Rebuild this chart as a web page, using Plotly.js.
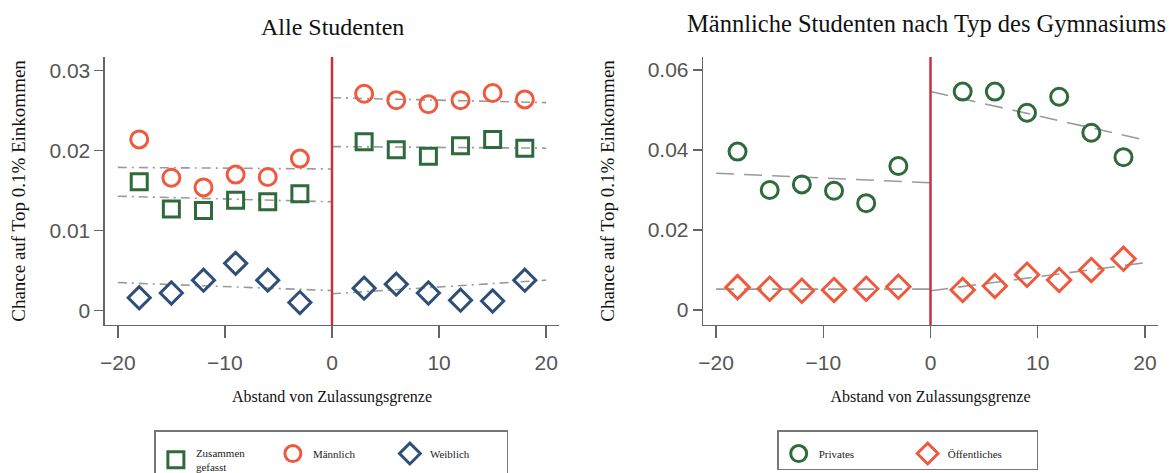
<!DOCTYPE html>
<html>
<head>
<meta charset="utf-8">
<script src="https://cdn.plot.ly/plotly-3.0.1.min.js"></script>
<style>html,body{margin:0;padding:0;background:#fff;}#chart{width:1174px;height:473px;}</style>
</head>
<body>
<div id="chart"></div>
<script>
// ---- data ----
const binX = [-18, -15, -12, -9, -6, -3, 3, 6, 9, 12, 15, 18];
const fitXLeft = [-20, 0];
const fitXRight = [0, 20];

const titles = ["Alle Studenten", "Männliche Studenten nach Typ des Gymnasiums"];
const xTitle = "Abstand von Zulassungsgrenze";
const yTitle = "Chance auf Top 0.1% Einkommen";

const namesLeft = ["Zusammen<br>gefasst", "Männlich", "Weiblich"];
const namesRight = ["Privates", "Öffentliches"];

// Panel 1: Alle Studenten
const zusammen = [0.0161, 0.0127, 0.0125, 0.0138, 0.0136, 0.0146, 0.0211, 0.0201, 0.0193, 0.0206, 0.0214, 0.0203];
const maennlich = [0.0214, 0.0166, 0.0154, 0.0170, 0.0167, 0.0190, 0.0271, 0.0263, 0.0258, 0.0263, 0.0272, 0.0264];
const weiblich = [0.0016, 0.0022, 0.0038, 0.0059, 0.0038, 0.0010, 0.0028, 0.0033, 0.0022, 0.0013, 0.0012, 0.0038];
const fitZusL = [0.0143, 0.0136], fitZusR = [0.0205, 0.0203];
const fitMaeL = [0.0179, 0.0177], fitMaeR = [0.0266, 0.0260];
const fitWeiL = [0.0035, 0.0025], fitWeiR = [0.0021, 0.0038];

// Panel 2: Männliche Studenten nach Gymnasium
const privates = [0.0396, 0.0300, 0.0314, 0.0298, 0.0267, 0.0360, 0.0546, 0.0546, 0.0493, 0.0533, 0.0443, 0.0382];
const oeffentliches = [0.0057, 0.0053, 0.0048, 0.0050, 0.0053, 0.0058, 0.0050, 0.0060, 0.0088, 0.0075, 0.0100, 0.0128];
const fitPrivL = [0.0342, 0.0318], fitPrivR = [0.0546, 0.0425];
const fitOeffL = [0.0052, 0.0052], fitOeffR = [0.0048, 0.0118];

const xTickVals = [-20, -10, 0, 10, 20];
const xTickText = ["\u221220", "\u221210", "0", "10", "20"];
const yTickValsL = [0, 0.01, 0.02, 0.03];
const yTickTextL = ["0", "0.01", "0.02", "0.03"];
const yTickValsR = [0, 0.02, 0.04, 0.06];
const yTickTextR = ["0", "0.02", "0.04", "0.06"];

// ---- styles ----
const GREEN = '#2f6a3c', RED = '#ee5a3e', NAVY = '#2e5078', CUT = '#c8323f', FIT = '#9a9a9a';
const serif = 'Liberation Serif, Times New Roman, serif';
const sans = 'Liberation Sans, Arial, sans-serif';

function pts(y, name, sym, color, size, xa, ya, legend) {
  return {x: binX, y: y, name: name, type: 'scatter', mode: 'markers', xaxis: xa, yaxis: ya, legend: legend,
    marker: {symbol: sym, size: size, color: color, line: {width: 3, color: color}}, cliponaxis: false};
}
function fit(x, y, xa, ya, dash) {
  return {x: x, y: y, type: 'scatter', mode: 'lines', xaxis: xa, yaxis: ya, showlegend: false, hoverinfo: 'skip',
    line: {color: FIT, width: 1.6, dash: dash}};
}
const DD = '9px,5px,2px,5px';
const LD = '18px,10px';

const data = [
  fit(fitXLeft, fitZusL, 'x', 'y', DD), fit(fitXRight, fitZusR, 'x', 'y', DD),
  fit(fitXLeft, fitMaeL, 'x', 'y', DD), fit(fitXRight, fitMaeR, 'x', 'y', DD),
  fit(fitXLeft, fitWeiL, 'x', 'y', DD), fit(fitXRight, fitWeiR, 'x', 'y', DD),
  fit(fitXLeft, fitPrivL, 'x2', 'y2', LD), fit(fitXRight, fitPrivR, 'x2', 'y2', LD),
  fit(fitXLeft, fitOeffL, 'x2', 'y2', LD), fit(fitXRight, fitOeffR, 'x2', 'y2', LD),
  pts(zusammen, namesLeft[0], 'square-open', GREEN, 16, 'x', 'y', 'legend'),
  pts(maennlich, namesLeft[1], 'circle-open', RED, 17, 'x', 'y', 'legend'),
  pts(weiblich, namesLeft[2], 'diamond-open', NAVY, 17, 'x', 'y', 'legend'),
  pts(privates, namesRight[0], 'circle-open', GREEN, 17, 'x2', 'y2', 'legend2'),
  pts(oeffentliches, namesRight[1], 'diamond-open', RED, 18, 'x2', 'y2', 'legend2')
];

function xax(domain, anchor) {
  return {domain: domain, anchor: anchor, range: [-21.2, 21.2], tickvals: xTickVals, ticktext: xTickText,
    showgrid: false, zeroline: false, showline: true, linecolor: '#666', linewidth: 1.5,
    ticks: 'outside', ticklen: 12, tickwidth: 1.5, tickcolor: '#666', ticklabelstandoff: 6,
    tickfont: {family: sans, size: 21, color: '#555'},
    title: {text: xTitle, font: {family: serif, size: 16, color: '#111'}, standoff: 18}};
}
function yax(range, vals, text, anchor, standoff) {
  return {domain: [0.313, 0.8795], anchor: anchor, range: range, tickvals: vals, ticktext: text,
    showgrid: false, zeroline: false, showline: true, linecolor: '#666', linewidth: 1.5,
    ticks: 'outside', ticklen: 9, tickwidth: 1.5, tickcolor: '#666',
    tickfont: {family: sans, size: 21, color: '#555'},
    title: {text: yTitle, font: {family: serif, size: 19, color: '#111'}, standoff: standoff}};
}

const legendBase = {orientation: 'h', xanchor: 'left', yanchor: 'top', y: 0.0909,
  bordercolor: '#777', borderwidth: 1.5, bgcolor: '#fff',
  title: {text: ' ', side: 'top', font: {family: serif, size: 5.8}},
  font: {family: serif, size: 11, color: '#222'}, entrywidthmode: 'pixels', itemwidth: 30, valign: 'middle'};

const layout = {
  width: 1174, height: 473, paper_bgcolor: '#fff', plot_bgcolor: '#fff',
  margin: {l: 0, r: 0, t: 0, b: 0, autoexpand: false}, showlegend: true,
  xaxis: xax([0.0894, 0.4762], 'y'),
  yaxis: yax([-0.0018, 0.0317], yTickValsL, yTickTextL, 'x', 18),
  xaxis2: xax([0.599, 0.9862], 'y2'),
  yaxis2: yax([-0.00375, 0.06325], yTickValsR, yTickTextR, 'x2', 28),
  legend: Object.assign({}, legendBase, {x: 0.1315, entrywidth: 72}),
  legend2: Object.assign({}, legendBase, {x: 0.662, entrywidth: 84}),
  shapes: [
    {type: 'line', xref: 'x', yref: 'y domain', x0: 0, x1: 0, y0: 0, y1: 1, line: {color: CUT, width: 2.5}},
    {type: 'line', xref: 'x2', yref: 'y2 domain', x0: 0, x1: 0, y0: 0, y1: 1, line: {color: CUT, width: 2.5}}
  ],
  annotations: [
    {text: titles[0], xref: 'paper', yref: 'paper', x: 0.2832, y: 0.943, xanchor: 'center', yanchor: 'middle',
      showarrow: false, font: {family: serif, size: 24, color: '#111'}},
    {text: titles[1], xref: 'paper', yref: 'paper', x: 0.789, y: 0.951, xanchor: 'center', yanchor: 'middle',
      showarrow: false, font: {family: serif, size: 24.5, color: '#111'}}
  ]
};

Plotly.newPlot('chart', data, layout, {staticPlot: true, displayModeBar: false});
</script>
</body>
</html>
